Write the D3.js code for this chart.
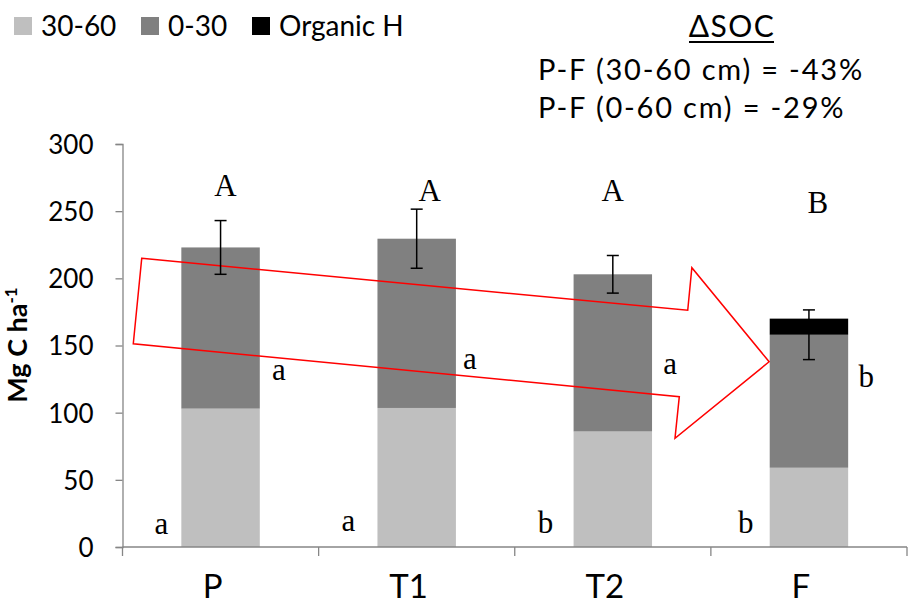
<!DOCTYPE html>
<html>
<head>
<meta charset="utf-8">
<script src="https://cdn.jsdelivr.net/npm/d3@7"></script>
<style>
  body { margin: 0; background: #fff; }
  text { font-family: Lato, "Noto Sans", sans-serif; fill: #000; }
  .serif { font-family: "Liberation Serif", "DejaVu Serif", serif; }
</style>
</head>
<body>
<div id="chart"></div>
<script>
// data (Mg C ha-1)
const categories = ['P', 'T1', 'T2', 'F']
const deep = [103, 103.5, 86, 59]        // 30-60 cm
const top030 = [120, 126, 117, 99]       // 0-30 cm
const organic = [0, 0, 0, 12]            // organic horizon
const errors = [20, 22, 14, 18.5]        // on 0-60 mineral total
const yTicks = [0, 50, 100, 150, 200, 250, 300]

const upperLetters = ['A', 'A', 'A', 'B']
const sideLetters = ['a', 'a', 'a', 'b']
const baseLetters = ['a', 'a', 'b', 'b']

const seriesNames = ['30-60', '0-30', 'Organic H']
const seriesColors = ['#bfbfbf', '#808080', '#000000']

// red arrow outline, in (category units, Mg C ha-1)
const arrowPts = [
  [0.098, 214.9], [2.882, 176.2], [2.903, 207.9], [3.297, 137.9],
  [2.817, 80.9], [2.839, 111.9], [0.055, 151.3]
]

const dimensions = {
  width: 912,
  height: 606,
  margin: { top: 144, bottom: 59, left: 122.5, right: 5 }
}
dimensions.ctrWidth = dimensions.width - dimensions.margin.left - dimensions.margin.right
dimensions.ctrHeight = dimensions.height - dimensions.margin.top - dimensions.margin.bottom

// letter placement (pixel nudges, not data)
const upperPos = [[5, 52], [13, 57], [0, 57], [9, 69]]
const sidePos = [[19, 236], [14, 225], [18, 230], [18, 243]]
const basePos = [[-20, 390], [-29, 387], [-28, 389], [-24, 389]]

const svg = d3.select('#chart')
  .append('svg')
  .attr('width', dimensions.width)
  .attr('height', dimensions.height)

const ctr = svg.append('g')
  .attr('transform', `translate(${dimensions.margin.left}, ${dimensions.margin.top})`)

const xScale = d3.scaleBand()
  .domain(categories)
  .range([0, dimensions.ctrWidth])
  .paddingInner(0.6)
  .paddingOuter(0.3)

const xIdx = d3.scaleLinear()
  .domain([0, categories.length])
  .range([0, dimensions.ctrWidth])

const yScale = d3.scaleLinear()
  .domain([0, 300])
  .range([dimensions.ctrHeight, 0])

const table = categories.map((c, i) => ({
  cat: c, deep: deep[i], top: top030[i], org: organic[i]
}))
const stacked = d3.stack().keys(['deep', 'top', 'org'])(table)

// bars
ctr.append('g')
  .selectAll('g')
  .data(stacked)
  .join('g')
  .attr('fill', (d, i) => seriesColors[i])
  .selectAll('rect')
  .data(d => d)
  .join('rect')
  .attr('x', d => xScale(d.data.cat))
  .attr('width', xScale.bandwidth())
  .attr('y', d => yScale(d[1]))
  .attr('height', d => yScale(d[0]) - yScale(d[1]))

// axes
const grey = '#868686'
const yAxis = d3.axisLeft(yScale).tickValues(yTicks).tickSize(7).tickPadding(22)
const yAxisGroup = ctr.append('g').call(yAxis)
yAxisGroup.select('.domain').attr('stroke', grey).attr('stroke-width', 1.3)
yAxisGroup.selectAll('.tick line').attr('stroke', grey).attr('stroke-width', 1.3)
yAxisGroup.selectAll('.tick text').style('font-size', '26px').attr('dy', '0.36em')

const xAxisGroup = ctr.append('g')
  .attr('transform', `translate(0, ${dimensions.ctrHeight})`)
xAxisGroup.append('line')
  .attr('x1', 0).attr('x2', dimensions.ctrWidth)
  .attr('stroke', grey).attr('stroke-width', 1.3)
xAxisGroup.selectAll('line.tk')
  .data(d3.range(categories.length + 1))
  .join('line')
  .attr('class', 'tk')
  .attr('x1', d => xIdx(d)).attr('x2', d => xIdx(d))
  .attr('y1', 0).attr('y2', 9)
  .attr('stroke', grey).attr('stroke-width', 1.3)
xAxisGroup.selectAll('text')
  .data(categories)
  .join('text')
  .attr('x', d => xScale(d) + xScale.bandwidth() / 2 - 8)
  .attr('y', 51)
  .attr('text-anchor', 'middle')
  .style('font-size', '33px')
  .text(d => d)

// y axis title
const title = svg.append('text')
  .attr('transform', 'translate(27, 345) rotate(-90)')
  .attr('text-anchor', 'middle')
  .style('font-size', '27px')
  .style('font-weight', 'bold')
title.append('tspan').text('Mg C ha')
title.append('tspan').text('-1').attr('dy', -10).style('font-size', '17px')

// red arrow
ctr.append('polygon')
  .attr('points', arrowPts.map(p => [xIdx(p[0]), yScale(p[1])].join(',')).join(' '))
  .attr('fill', 'none')
  .attr('stroke', '#ff0000')
  .attr('stroke-width', 1.5)

// error bars
const errG = ctr.append('g').attr('stroke', '#000').attr('stroke-width', 1.5)
categories.forEach((c, i) => {
  const cx = xScale(c) + xScale.bandwidth() / 2
  const m = deep[i] + top030[i]
  const y1 = yScale(m + errors[i])
  const y0 = yScale(m - errors[i])
  errG.append('line').attr('x1', cx).attr('x2', cx).attr('y1', y1).attr('y2', y0)
  errG.append('line').attr('x1', cx - 6).attr('x2', cx + 6).attr('y1', y1).attr('y2', y1)
  errG.append('line').attr('x1', cx - 6).attr('x2', cx + 6).attr('y1', y0).attr('y2', y0)
})

// significance letters
const letterG = ctr.append('g').attr('class', 'serif').style('font-size', '31px')
categories.forEach((c, i) => {
  const x0 = xScale(c)
  const cx = x0 + xScale.bandwidth() / 2
  const x1 = x0 + xScale.bandwidth()
  letterG.append('text').attr('class', 'serif')
    .attr('x', cx + upperPos[i][0]).attr('y', upperPos[i][1])
    .attr('text-anchor', 'middle').text(upperLetters[i])
  letterG.append('text').attr('class', 'serif')
    .attr('x', x1 + sidePos[i][0]).attr('y', sidePos[i][1])
    .attr('text-anchor', 'middle').text(sideLetters[i])
  letterG.append('text').attr('class', 'serif')
    .attr('x', x0 + basePos[i][0]).attr('y', basePos[i][1])
    .attr('text-anchor', 'middle').text(baseLetters[i])
})

// legend
const legendX = [14, 141, 252]
const legend = svg.append('g')
seriesNames.forEach((name, i) => {
  legend.append('rect')
    .attr('x', legendX[i]).attr('y', 17)
    .attr('width', 18).attr('height', 18)
    .attr('fill', seriesColors[i])
  legend.append('text')
    .attr('x', legendX[i] + 27).attr('y', 36)
    .style('font-size', '28px')
    .text(name)
})

// ΔSOC note
const note = svg.append('g')
const head = note.append('text')
  .attr('x', 732).attr('y', 37)
  .attr('text-anchor', 'middle')
  .style('font-size', '30px')
  .style('letter-spacing', '1.5px')
  .text('ΔSOC')
note.append('line')
  .attr('x1', 689).attr('x2', 774)
  .attr('y1', 42).attr('y2', 42)
  .attr('stroke', '#000').attr('stroke-width', 2)
note.append('text').attr('x', 538).attr('y', 80)
  .style('font-size', '29px').style('letter-spacing', '1.8px')
  .text('P-F (30-60 cm) = -43%')
note.append('text').attr('x', 538).attr('y', 118)
  .style('font-size', '29px').style('letter-spacing', '1.8px')
  .text('P-F (0-60 cm) = -29%')
</script>
</body>
</html>
